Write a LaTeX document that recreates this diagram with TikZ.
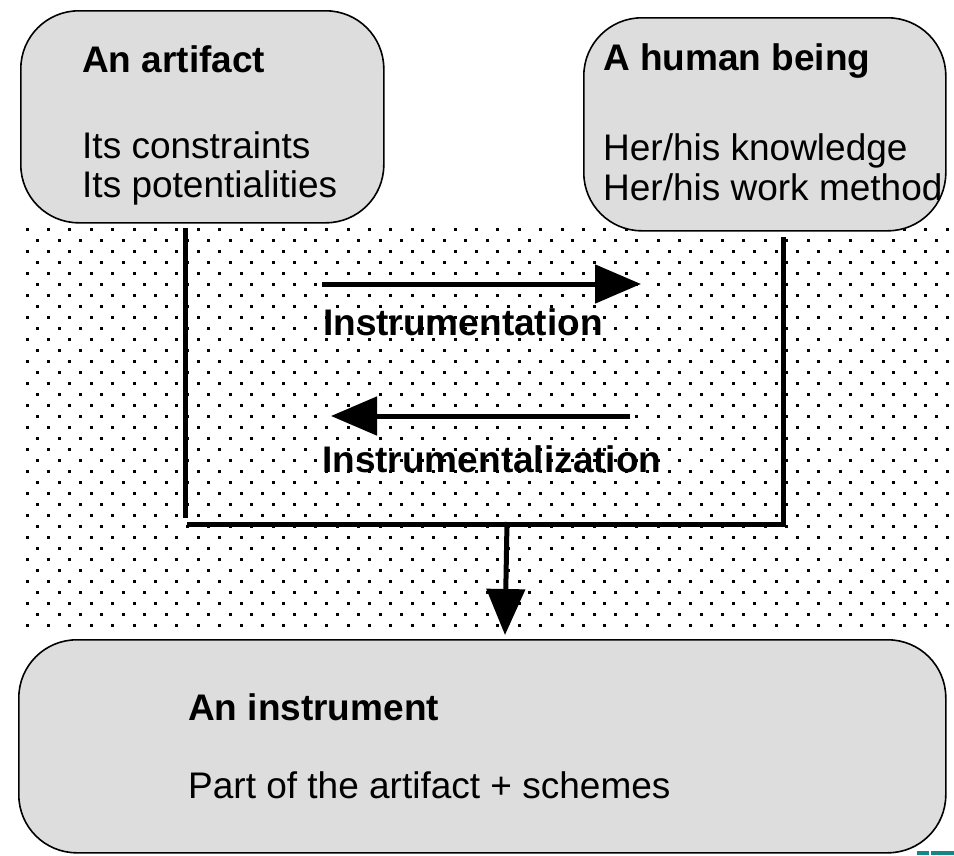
\documentclass[tikz,border=0pt]{standalone}
\usepackage{fontspec}
\setmainfont{Liberation Sans}
\usetikzlibrary{arrows.meta}
\definecolor{panelgray}{RGB}{221,221,221}
\definecolor{logoteal}{RGB}{20,135,135}
\begin{document}
\begin{tikzpicture}[x=1pt,y=-1pt,
  panel/.style={draw=black,line width=1.6pt,fill=panelgray,rounded corners=58pt,
    inner sep=0pt,anchor=north west},
  label/.style={anchor=base west,inner sep=0pt,font=\fontsize{37}{39}\selectfont},
  title/.style={anchor=base west,inner sep=0pt,font=\fontsize{37}{39}\selectfont\bfseries},
  link/.style={line width=5pt},
  flow/.style={line width=5pt,-{Triangle[length=46pt,width=38pt]}}]
\useasboundingbox (0,0) rectangle (954,855);

% stippled backdrop behind the transformation loop
\foreach \r in {0,...,18}{
  \foreach \c in {0,...,43}{
    \fill ({27+21.4*\c-1.5},{229+22*\r-1.5}) rectangle ++(3,3);
  }
}
\foreach \r in {0,...,17}{
  \foreach \c in {0,...,42}{
    \fill ({37.7+21.4*\c-1.5},{240+22*\r-1.5}) rectangle ++(3,3);
  }
}

% the three panels
\node[panel,minimum width=363pt,minimum height=212pt] (artifact) at (20,10) {};
\node[panel,minimum width=362pt,minimum height=213pt] (human) at (583,17) {};
\node[panel,minimum width=927pt,minimum height=213pt] (instrument) at (18,639) {};

% panel texts
\node[title] (artifactT) at (82,72) {An artifact};
\node[label] (artifactA) at (82,158) {Its constraints};
\node[label] (artifactB) at (82,197) {Its potentialities};

\node[title] (humanT) at (603,70) {A human being};
\node[label] (humanA) at (603,160) {Her/his knowledge};
\node[label] (humanB) at (603,200) {Her/his work method};

\node[title] (instrumentT) at (188,720) {An instrument};
\node[label] (instrumentA) at (188,798) {Part of the artifact + schemes};

% loop frame joining artifact and human
\coordinate (fa) at (185,228);
\coordinate (fb) at (185,518);
\coordinate (fc) at (187,524);
\coordinate (fd) at (783,524);
\coordinate (fe) at (783,237);
\draw[link] (fa) -- (fb);
\draw[link] (fc) -- (fd) -- (fe);

% the two processes
\coordinate (r0) at (322,284);
\coordinate (r1) at (641,284);
\draw[flow] (r0) -- (r1);
\node[title] (instrumentation) at (323,335) {Instrumentation};

\coordinate (l0) at (630,416);
\coordinate (l1) at (331,416);
\draw[flow] (l0) -- (l1);
\node[title] (instrumentalization) at (322,472) {Instrumentalization};

% result arrow down to the instrument
\coordinate (d0) at (507,522);
\coordinate (d1) at (505,635);
\draw[flow] (d0) -- (d1);

% corner logo strip
\fill[logoteal] (917,851) rectangle (929,855);
\fill[logoteal] (931,851) rectangle (954,855);
\end{tikzpicture}
\end{document}
